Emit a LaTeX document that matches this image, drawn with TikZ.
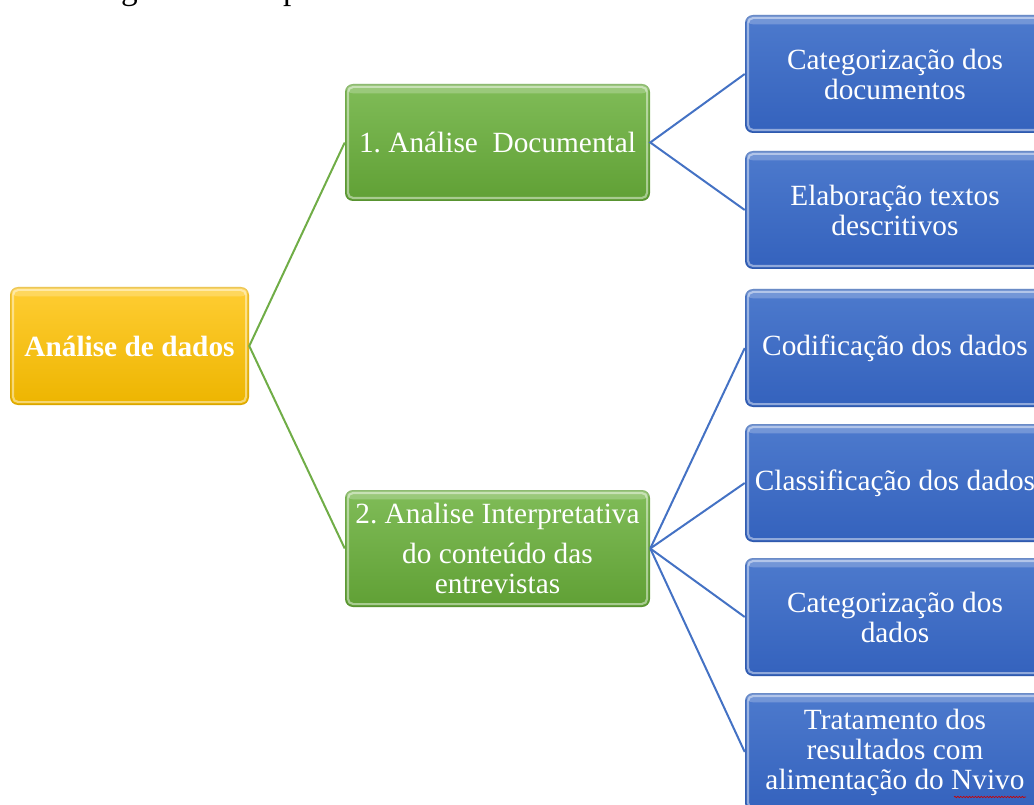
\documentclass[tikz,border=0pt]{standalone}
\usepackage{fontspec}
\setmainfont{Liberation Serif}
\usetikzlibrary{decorations.pathmorphing}

\definecolor{ytop}{HTML}{FFCD33}
\definecolor{ybot}{HTML}{EDB500}
\definecolor{gtop}{HTML}{80BC58}
\definecolor{gbot}{HTML}{60A035}
\definecolor{btop}{HTML}{4D7ACD}
\definecolor{bbot}{HTML}{3462BD}
\definecolor{gline}{HTML}{70AD47}
\definecolor{bline}{HTML}{4472C4}

\tikzset{
  x=0.75pt, y=-0.75pt,
  gloss/.style={
    rounded corners=6pt, text=white, align=center,
    font=\fontsize{22}{22.5}\selectfont, inner sep=0pt,
    path picture={
      \fill[white, opacity=.22]
        (path picture bounding box.north west) rectangle
        ([yshift=-7pt]path picture bounding box.north east);
      \draw[white, opacity=.45, line width=1.6pt, rounded corners=4pt]
        ([shift={(2.2pt,-2.2pt)}]path picture bounding box.north west) rectangle
        ([shift={(-2.2pt,2.2pt)}]path picture bounding box.south east);
      \draw[black, opacity=.08, line width=1pt, rounded corners=5pt]
        ([shift={(0.5pt,-0.5pt)}]path picture bounding box.north west) rectangle
        ([shift={(-0.5pt,0.5pt)}]path picture bounding box.south east);
    }},
  rootbox/.style={gloss, top color=ytop, bottom color=ybot,
    minimum width=179.25pt, minimum height=88.5pt},
  midbox/.style={gloss, top color=gtop, bottom color=gbot,
    minimum width=228.75pt, minimum height=87.75pt},
  leafbox/.style={gloss, top color=btop, bottom color=bbot,
    minimum width=225pt, minimum height=88.5pt},
  glink/.style={draw=gline, line width=1.5pt},
  blink/.style={draw=bline, line width=1.5pt}
}

\begin{document}
\begin{tikzpicture}
\useasboundingbox (0,0) rectangle (1034,805);
\begin{scope}
\clip (0,0) rectangle (1034,805);

% caption, only its lowest part falls inside the frame
\node[anchor=base west, inner sep=0pt, font=\fontsize{25}{30}\selectfont]
  (caption) at (93,0) {Figura 3 – Etapas da Análise de dados};

% root
\node[rootbox] (root) at (129.5,346) {\bfseries Análise de dados};

% stages
\node[midbox] (doc) at (497.5,142.5) {1.\ Análise\ \ Documental};
\node[midbox] (int) at (497.5,548.5)
  {2.\ Analise Interpretativa\\[8pt]do conteúdo das\\entrevistas};

% steps
\node[leafbox] (l1) at (895,74)  {Categorização dos\\documentos};
\node[leafbox] (l2) at (895,210) {Elaboração textos\\descritivos};
\node[leafbox] (l3) at (895,348) {Codificação dos dados};
\node[leafbox] (l4) at (895,483) {Classificação dos dados};
\node[leafbox] (l5) at (895,617) {Categorização dos\\dados};
\node[leafbox] (l6) at (895,752)
  {Tratamento dos\\resultados com\\alimentação do Nvivo};

% links
\draw[glink] (doc.west) -- (root.east) -- (int.west);
\draw[blink] (l1.west) -- (doc.east) -- (l2.west);
\draw[blink] (int.east) -- (l3.west);
\draw[blink] (int.east) -- (l4.west);
\draw[blink] (int.east) -- (l5.west);
\draw[blink] (int.east) -- (l6.west);

% spelling squiggle under the product name
\draw[red!80!black, line width=0.5pt,
  decorate, decoration={snake, amplitude=0.5pt, segment length=2.2pt}]
  (954,797) -- (1026,797);
\end{scope}
\end{tikzpicture}
\end{document}
